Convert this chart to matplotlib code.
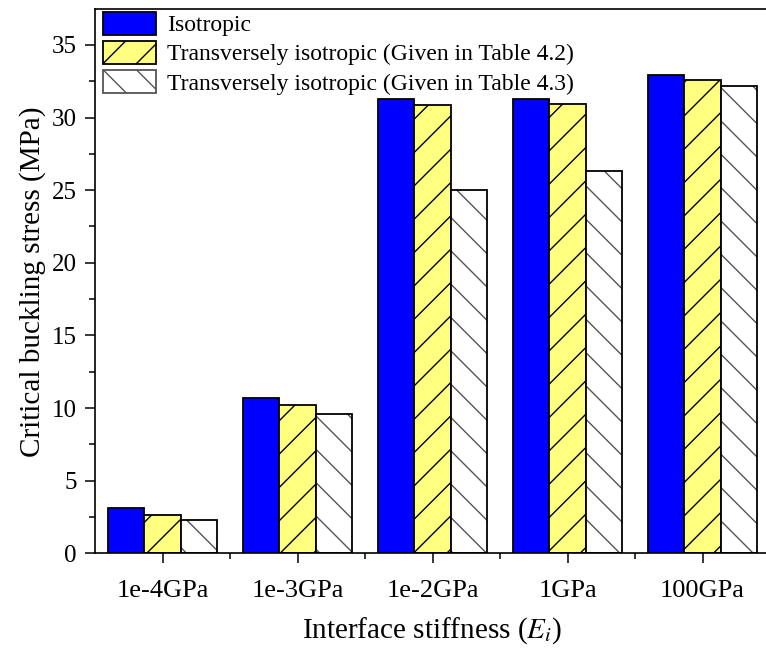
import matplotlib
matplotlib.use('Agg')
import matplotlib.pyplot as plt
from matplotlib.ticker import MultipleLocator, FixedLocator
import numpy as np

# datos
categorias = ['1e-4GPa', '1e-3GPa', '1e-2GPa', '1GPa', '100GPa']
isotropic = [3.14, 10.7, 31.25, 31.3, 32.9]
trans_42 = [2.66, 10.22, 30.88, 30.92, 32.6]
trans_43 = [2.3, 9.6, 25.0, 26.3, 32.15]
etiquetas = ['Isotropic',
             'Transversely isotropic (Given in Table 4.2)',
             'Transversely isotropic (Given in Table 4.3)']

plt.rcParams['font.family'] = ['Liberation Serif', 'DejaVu Serif']
plt.rcParams['mathtext.fontset'] = 'stix'
plt.rcParams['hatch.linewidth'] = 1.0

fig = plt.figure(figsize=(7.66, 6.52), dpi=100)
ax = fig.add_axes([95 / 766, (652 - 553.3) / 652, 675 / 766, 544 / 652])

x = np.arange(len(categorias))
w = 0.267

ax.bar(x - w, isotropic, w, color='#0000ff', edgecolor='black', linewidth=1.3,
       label=etiquetas[0], zorder=2)
ax.bar(x, trans_42, w, color='#ffff80', edgecolor='black', linewidth=1.3,
       hatch='/', label=etiquetas[1], zorder=2)
# hatch gris con borde negro
ax.bar(x + w, trans_43, w, color='white', edgecolor='#555555', linewidth=0,
       hatch='\\', zorder=2)
ax.bar(x + w, trans_43, w, fill=False, edgecolor='black', linewidth=1.3, zorder=3)
# entrada de leyenda para la tercera serie
ax.bar([0], [0], 0, color='white', edgecolor='#555555', hatch='\\',
       linewidth=1.3, label=etiquetas[2])

ax.set_xlim(-0.5, 4.5)
ax.set_ylim(0, 37.45)
ax.set_xticks(x)
ax.set_xticklabels(categorias)
ax.xaxis.set_minor_locator(FixedLocator(x[:-1] + 0.5))
ax.yaxis.set_major_locator(MultipleLocator(5))
ax.yaxis.set_minor_locator(MultipleLocator(2.5))

ax.tick_params(which='major', direction='out', length=7, width=1.1, pad=6)
ax.tick_params(axis='y', which='major', labelsize=18)
ax.tick_params(axis='x', which='major', labelsize=19, pad=12)
ax.tick_params(which='minor', direction='out', length=4, width=1.1)
for s in ax.spines.values():
    s.set_linewidth(1.2)

ax.set_xlabel(r'Interface stiffness ($E_i$)', fontsize=21, labelpad=10)
ax.set_ylabel('Critical buckling stress (MPa)', fontsize=21, labelpad=4)

ax.legend(loc='upper left', bbox_to_anchor=(0.012, 0.995), frameon=False,
          fontsize=17, handlelength=2.25, handleheight=1.1, labelspacing=0.2,
          borderpad=0, borderaxespad=0, handletextpad=0.45)

fig.savefig('out.png', dpi=100)
